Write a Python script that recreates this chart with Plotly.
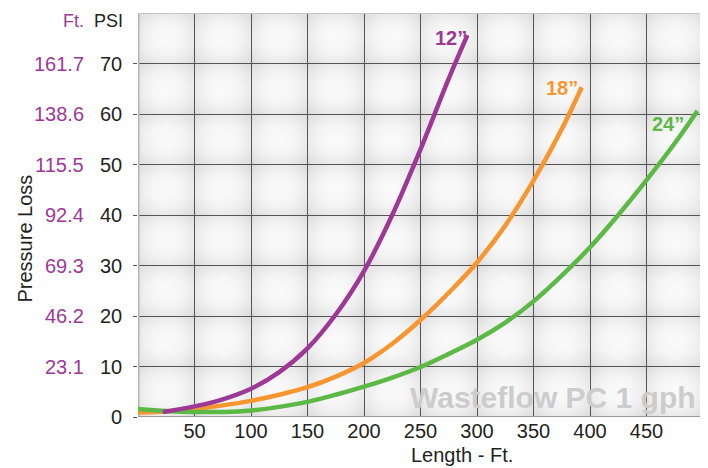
import base64, struct, zlib
import numpy as np
import plotly.graph_objects as go

# ---------------- data ----------------
x_12 = [22, 50, 75, 100, 125, 150, 175, 200, 225, 250, 275, 291.5]
y_12 = [1.0, 2.1, 3.5, 5.6, 8.9, 13.6, 20.3, 28.9, 40.0, 53.0, 67.0, 75.6]

x_18 = [0, 25, 50, 75, 100, 125, 150, 175, 200, 225, 250, 275, 300, 325, 350, 375, 392.7]
y_18 = [0.9, 1.1, 1.6, 2.3, 3.2, 4.4, 5.9, 8.0, 10.7, 14.5, 19.2, 24.6, 30.6, 37.9, 46.8, 57.0, 65.3]

x_24 = [0, 25, 50, 75, 100, 125, 150, 175, 200, 225, 250, 275, 300, 325, 350, 375, 400, 425, 450, 475, 495]
y_24 = [1.6, 1.2, 1.0, 1.0, 1.3, 2.0, 3.0, 4.4, 6.0, 7.8, 9.9, 12.5, 15.3, 18.7, 22.9, 28.0, 33.6, 40.0, 46.9, 54.2, 60.6]

psi_ticks = [0, 10, 20, 30, 40, 50, 60, 70]
psi_labels = ["0", "10", "20", "30", "40", "50", "60", "70"]
ft_ticks = [10, 20, 30, 40, 50, 60, 70]
ft_labels = ["23.1", "46.2", "69.3", "92.4", "115.5", "138.6", "161.7"]
x_ticks = [0, 50, 100, 150, 200, 250, 300, 350, 400, 450]
x_labels = ["", "50", "100", "150", "200", "250", "300", "350", "400", "450"]

series_names = ["18\u201d", "24\u201d", "12\u201d"]
PURPLE = "#9e3897"
ORANGE = "#f7962f"
GREEN = "#5cb946"
INK = "#231f20"

# page has an 8px body margin; figure is sized to fit the 708x468 window
OFF = 8
W, H = 708 - OFF, 468 - OFF
PL, PR, PT, PB = 138, 703, 13, 417          # plot box in window pixels
L, R, T, B = PL - OFF, W - (PR - OFF), PT - OFF, H - (PB - OFF)
XMAX, YMAX = 500, 80
pw, ph = PR - PL, PB - PT

def px(xp):
    return (xp - PL) / pw

def py(yp):
    return (PB - yp) / ph

# ------------- background texture (decoration only) -------------
xs = (np.arange(pw) + 0.5) / pw * XMAX
ys = (np.arange(ph) + 0.5) / ph * YMAX
u = (xs % 50) / 50.0
v = (ys % 10) / 10.0
U, V = np.meshgrid(u, v)
d2 = ((U - 0.5) / 0.5) ** 2 + ((V - 0.5) / 0.5) ** 2
img = np.clip(250 - 16 * d2, 0, 255).astype(np.uint8)
raw = b"".join(b"\x00" + img[r].tobytes() for r in range(ph))

def chunk(tag, data):
    c = struct.pack(">I", len(data)) + tag + data
    return c + struct.pack(">I", zlib.crc32(tag + data) & 0xFFFFFFFF)

png = (b"\x89PNG\r\n\x1a\n" + chunk(b"IHDR", struct.pack(">IIBBBBB", pw, ph, 8, 0, 0, 0, 0))
       + chunk(b"IDAT", zlib.compress(raw, 9)) + chunk(b"IEND", b""))
bg_uri = "data:image/png;base64," + base64.b64encode(png).decode()

# ---------------- figure ----------------
fig = go.Figure()
for xv, yv, col, nm in [(x_18, y_18, ORANGE, series_names[0]),
                        (x_24, y_24, GREEN, series_names[1]),
                        (x_12, y_12, PURPLE, series_names[2])]:
    fig.add_trace(go.Scatter(x=xv, y=yv, mode="lines", name=nm,
                             line=dict(color=col, width=4.5, shape="spline", smoothing=1.0),
                             hoverinfo="skip"))

font = "Liberation Sans, Arial, sans-serif"
fig.update_layout(
    width=W, height=H,
    margin=dict(l=L, r=R, t=T, b=B, pad=0, autoexpand=False),
    paper_bgcolor="white", plot_bgcolor="white",
    showlegend=False,
    font=dict(family=font, size=20, color=INK),
    xaxis=dict(range=[0, XMAX], tickvals=x_ticks, ticktext=x_labels,
               showgrid=True, gridcolor="#555555", gridwidth=1,
               zeroline=False, showline=False, ticks="",
               tickfont=dict(size=20, color=INK)),
    yaxis=dict(range=[0, YMAX], tickvals=psi_ticks,
               showticklabels=False,
               showgrid=True, gridcolor="#555555", gridwidth=1,
               zeroline=False, showline=False, ticks="outside", ticklen=4,
               tickcolor="#555555"),
    images=[dict(source=bg_uri, xref="x", yref="y", x=0, y=YMAX, sizex=XMAX, sizey=YMAX,
                 sizing="stretch", layer="below", xanchor="left", yanchor="top")],
)

# borders
fig.add_shape(type="line", xref="x", yref="y", x0=0, x1=0, y0=0, y1=YMAX,
              line=dict(color="#b5b5b5", width=3), layer="between")
fig.add_shape(type="line", xref="x", yref="y", x0=0, x1=XMAX, y0=YMAX, y1=YMAX,
              line=dict(color="#c4c4c4", width=2), layer="between")
fig.add_shape(type="line", xref="x", yref="y", x0=XMAX, x1=XMAX, y0=0, y1=YMAX,
              line=dict(color="#c4c4c4", width=2), layer="between")
fig.add_shape(type="line", xref="x", yref="y", x0=0, x1=XMAX, y0=0, y1=0,
              line=dict(color="#9a9a9a", width=2), layer="between")

# PSI column
for v_, t_ in zip(psi_ticks, psi_labels):
    fig.add_annotation(xref="paper", yref="y", x=0, y=v_, text=t_, showarrow=False,
                       xanchor="right", yanchor="middle", xshift=-(PL - 124),
                       font=dict(size=20, color=INK, family=font))
# Ft. column
for v_, t_ in zip(ft_ticks, ft_labels):
    fig.add_annotation(xref="paper", yref="y", x=0, y=v_, text=t_, showarrow=False,
                       xanchor="right", yanchor="middle", xshift=-(PL - 86),
                       font=dict(size=20, color=PURPLE, family=font))

fig.add_annotation(xref="paper", yref="paper", x=px(86), y=py(21),
                   text="Ft.", showarrow=False, xanchor="right", yanchor="middle",
                   font=dict(size=18, color=PURPLE, family=font))
fig.add_annotation(xref="paper", yref="paper", x=px(125), y=py(21),
                   text="PSI", showarrow=False, xanchor="right", yanchor="middle",
                   font=dict(size=18, color=INK, family=font))

fig.add_annotation(xref="paper", yref="paper", x=px(25), y=py(238.5),
                   text="Pressure Loss", textangle=-90, showarrow=False,
                   xanchor="center", yanchor="middle",
                   font=dict(size=20, color=INK, family=font))
fig.add_annotation(xref="paper", yref="paper", x=px(461.5), y=py(455),
                   text="Length - Ft.", showarrow=False, xanchor="center", yanchor="middle",
                   font=dict(size=20, color=INK, family=font))

# curve labels
for (lx, ly), nm, col in [((277, 75.0), series_names[2], PURPLE),
                          ((375.2, 65.1), series_names[0], ORANGE),
                          ((468.6, 58.1), series_names[1], GREEN)]:
    fig.add_annotation(x=lx, y=ly, text="<b>%s</b>" % nm, showarrow=False,
                       xanchor="center", yanchor="middle",
                       font=dict(size=20, color=col, family=font))

fig.add_annotation(x=495.5, y=3.8, text="<b>Wasteflow PC 1 gph</b>", showarrow=False,
                   xanchor="right", yanchor="middle",
                   font=dict(size=30, color="#cccccc", family=font))

fig.write_html("out.html")
